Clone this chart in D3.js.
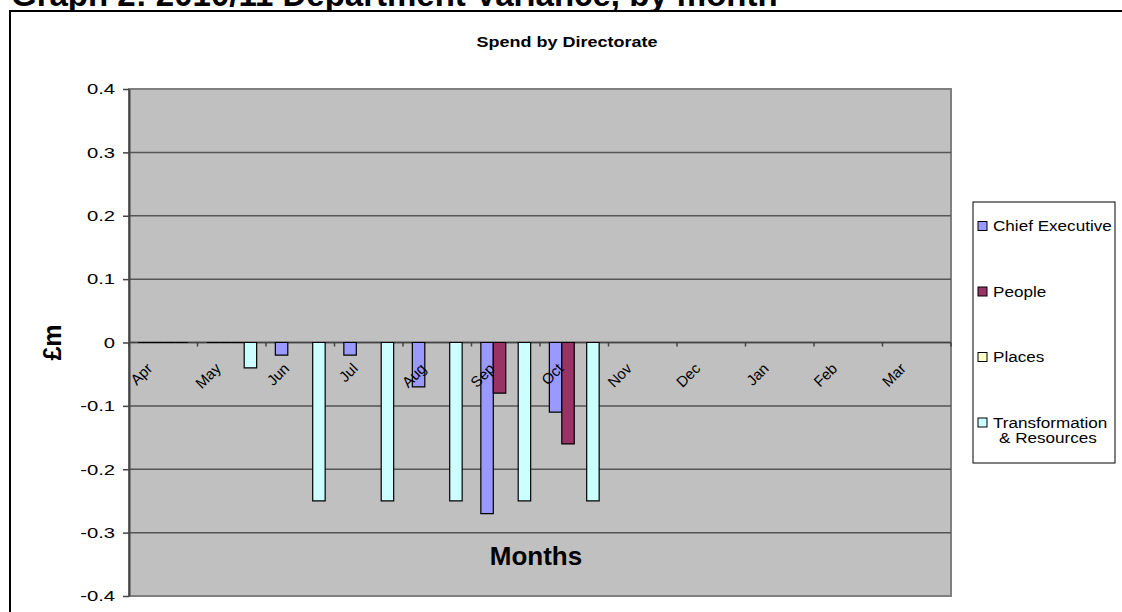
<!DOCTYPE html>
<html>
<head>
<meta charset="utf-8">
<script src="https://cdn.jsdelivr.net/npm/d3@7"></script>
<style>
	body { margin: 0; background: #fff; }
	svg { display: block; font-family: "Liberation Sans", Arial, sans-serif; }
</style>
</head>
<body>
<script>
// Spend by Directorate - variance by month (£m)

var width = 1122,
	height = 612;

var months = ["Apr", "May", "Jun", "Jul", "Aug", "Sep", "Oct", "Nov", "Dec", "Jan", "Feb", "Mar"];
var seriesNames = ["Chief Executive", "People", "Places", "Transformation & Resources"];
var chiefExecutive = [0, 0, -0.02, -0.02, -0.07, -0.27, -0.11, null, null, null, null, null];
var people = [0, 0, null, null, null, -0.08, -0.16, null, null, null, null, null];
var places = [0, 0, null, null, null, null, null, null, null, null, null, null];
var transformation = [0, -0.04, -0.25, -0.25, -0.25, -0.25, -0.25, null, null, null, null, null];
var seriesColours = ["#9999ff", "#993366", "#ffffcc", "#ccffff"];
var yTicks = [-0.4, -0.3, -0.2, -0.1, 0, 0.1, 0.2, 0.3, 0.4];

var allSeries = [chiefExecutive, people, places, transformation];

var plot = {left: 129, right: 951, top: 89, bottom: 596};

var svg = d3.select("body").append("svg")
	.attr("width", width)
	.attr("height", height);

// page heading, mostly cut off at the top
svg.append("text")
	.attr("x", 11)
	.attr("y", 6)
	.style("font-size", "33px")
	.style("font-weight", "bold")
	.text("Graph 2: 2010/11 Department Variance, by month");

// chart border (runs off the right and bottom)
svg.append("rect")
	.attr("x", 10).attr("y", 11)
	.attr("width", width + 20).attr("height", height + 20)
	.attr("fill", "#fff")
	.attr("stroke", "#000")
	.attr("stroke-width", 2);

svg.append("text")
	.attr("transform", "translate(567,47) scale(1.2,1)")
	.attr("text-anchor", "middle")
	.style("font-size", "15px")
	.style("font-weight", "bold")
	.text("Spend by Directorate");

// scales
var x0 = d3.scaleBand().domain(months).range([plot.left, plot.right]);
var x1 = d3.scaleBand().domain(d3.range(seriesNames.length))
	.range([0, x0.bandwidth()])
	.paddingOuter(0.75);
var y = d3.scaleLinear().domain([-0.4, 0.4]).range([plot.bottom, plot.top]);

// plot area
svg.append("rect")
	.attr("x", plot.left).attr("y", plot.top)
	.attr("width", plot.right - plot.left)
	.attr("height", plot.bottom - plot.top)
	.attr("fill", "#c0c0c0")
	.attr("stroke", "#808080")
	.attr("stroke-width", 2);

svg.append("g").selectAll("line")
	.data(yTicks.slice(1, -1))
	.enter().append("line")
	.attr("x1", plot.left).attr("x2", plot.right)
	.attr("y1", function(d) { return y(d); })
	.attr("y2", function(d) { return y(d); })
	.attr("stroke", "#555")
	.attr("stroke-width", 1.5);

// y axis
var yAxis = svg.append("g")
	.attr("transform", "translate(" + plot.left + ",0)")
	.call(d3.axisLeft(y)
		.tickValues(yTicks)
		.tickSize(6)
		.tickSizeOuter(0)
		.tickFormat(function(d) { return d === 0 ? "0" : d.toFixed(1); }));
yAxis.select(".domain").attr("stroke", "#444").attr("stroke-width", 2);
yAxis.selectAll(".tick line").attr("stroke", "#444").attr("stroke-width", 1.5);
yAxis.selectAll(".tick text")
	.attr("x", -14 / 1.35)
	.attr("transform", "scale(1.35,1)")
	.attr("fill", "#000")
	.style("font-size", "15px")
	.style("font-family", "'Liberation Sans', Arial, sans-serif");

// category axis along zero
svg.append("line")
	.attr("x1", plot.left).attr("x2", plot.right)
	.attr("y1", y(0)).attr("y2", y(0))
	.attr("stroke", "#444")
	.attr("stroke-width", 1.5);

svg.append("g").selectAll("line")
	.data(d3.range(months.length + 1))
	.enter().append("line")
	.attr("x1", function(i) { return plot.left + i * x0.step(); })
	.attr("x2", function(i) { return plot.left + i * x0.step(); })
	.attr("y1", y(0))
	.attr("y2", y(0) + 4)
	.attr("stroke", "#444")
	.attr("stroke-width", 1.5);

// bars
var bars = [];
allSeries.forEach(function(values, s) {
	values.forEach(function(v, i) {
		if (v !== null) bars.push({s: s, month: months[i], value: v});
	});
});

svg.append("g").selectAll("path")
	.data(bars)
	.enter().append("path")
	.attr("d", function(d) {
		var xa = x0(d.month) + x1(d.s),
			xb = xa + x1.bandwidth();
		return "M" + xa + "," + y(0) + "H" + xb + "V" + y(d.value) + "H" + xa + "Z";
	})
	.attr("fill", function(d) { return seriesColours[d.s]; })
	.attr("stroke", "#000")
	.attr("stroke-width", 1.2);

// month labels
svg.append("g").selectAll("text")
	.data(months)
	.enter().append("text")
	.attr("transform", function(d) {
		return "translate(" + (x0(d) + x0.bandwidth() / 2 - 10) + "," + (y(0) + 27) + ") rotate(-45)";
	})
	.attr("text-anchor", "end")
	.style("font-size", "15px")
	.text(function(d) { return d; });

svg.append("text")
	.attr("x", (plot.left + plot.right) / 2 - 4)
	.attr("y", 565)
	.attr("text-anchor", "middle")
	.style("font-size", "26px")
	.style("font-weight", "bold")
	.text("Months");

svg.append("text")
	.attr("transform", "translate(61," + y(0) + ") rotate(-90)")
	.attr("text-anchor", "middle")
	.style("font-size", "25px")
	.style("font-weight", "bold")
	.text("£m");

// legend
var legend = svg.append("g").attr("transform", "translate(973,202)");
legend.append("rect")
	.attr("width", 142).attr("height", 261)
	.attr("fill", "#fff")
	.attr("stroke", "#000")
	.attr("stroke-width", 1);

var item = legend.selectAll(".item")
	.data(seriesNames)
	.enter().append("g")
	.attr("transform", function(d, i) { return "translate(0," + (24 + i * 65.5) + ")"; });

item.append("rect")
	.attr("x", 5).attr("y", -4.5)
	.attr("width", 9).attr("height", 9)
	.attr("fill", function(d, i) { return seriesColours[i]; })
	.attr("stroke", "#000")
	.attr("stroke-width", 1);

item.append("text")
	.attr("transform", "translate(20,5) scale(1.14,1)")
	.style("font-size", "15px")
	.selectAll("tspan")
	.data(function(d) { return d === "Transformation & Resources" ? ["Transformation", "& Resources"] : [d]; })
	.enter().append("tspan")
	.attr("x", function(d, i) { return i ? 6 / 1.14 : 0; })
	.attr("dy", function(d, i) { return i ? 16 : 0; })
	.text(function(d) { return d; });
</script>
</body>
</html>
